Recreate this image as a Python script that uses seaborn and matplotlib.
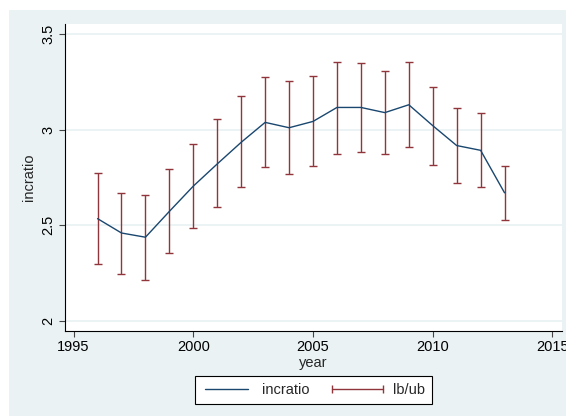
import matplotlib
matplotlib.use("Agg")
import matplotlib.pyplot as plt
import matplotlib.patches as mpatches
from matplotlib.lines import Line2D
from matplotlib.legend_handler import HandlerLine2D
import seaborn as sns
import pandas as pd

# values
years = list(range(1996, 2014))
incratio = [2.535, 2.46, 2.438, 2.573, 2.705, 2.821, 2.934, 3.038, 3.010,
            3.043, 3.116, 3.116, 3.089, 3.130, 3.021, 2.917, 2.892, 2.670]
lb = [2.300, 2.245, 2.217, 2.356, 2.486, 2.594, 2.701, 2.804, 2.766,
      2.809, 2.875, 2.885, 2.872, 2.911, 2.816, 2.719, 2.700, 2.526]
ub = [2.771, 2.668, 2.658, 2.795, 2.927, 3.054, 3.174, 3.274, 3.253,
      3.278, 3.356, 3.347, 3.304, 3.351, 3.222, 3.115, 3.085, 2.811]

df = pd.DataFrame({"year": years, "incratio": incratio, "lb": lb, "ub": ub})

navy = "#1a476f"
maroon = "#90353b"
bg = "#eaf2f3"

sns.set_style("white")
plt.rcParams["font.family"] = ["Liberation Sans", "DejaVu Sans"]
fs = 10.5

fig = plt.figure(figsize=(5.66, 4.16), dpi=100, facecolor="white")
# stata graph region (slight white margin top/left)
fig.patches.append(mpatches.Rectangle((9 / 566, 0), 1, 1 - 10 / 416,
                                      transform=fig.transFigure,
                                      facecolor=bg, edgecolor="none", zorder=-10))

ax = fig.add_axes([65 / 566, 1 - 331 / 416, (562 - 65) / 566, (331 - 24) / 416])
ax.set_facecolor("white")

for v in [2, 2.5, 3, 3.5]:
    ax.axhline(v, color=bg, lw=1.3, zorder=0)

ax.errorbar(df["year"], (df["lb"] + df["ub"]) / 2,
            yerr=[(df["ub"] - df["lb"]) / 2, (df["ub"] - df["lb"]) / 2],
            fmt="none", ecolor=maroon, elinewidth=1.0, capsize=2.6,
            capthick=1.0, zorder=2)
sns.lineplot(data=df, x="year", y="incratio", color=navy, lw=1.0, ax=ax,
             zorder=3)

ax.set_xlim(1994.64, 2015.4)
ax.set_ylim(1.948, 3.552)
ax.set_xticks([1995, 2000, 2005, 2010, 2015])
ax.set_yticks([2, 2.5, 3, 3.5])
ax.set_yticklabels(["2", "2.5", "3", "3.5"], rotation=90, va="center")

for s in ["top", "right"]:
    ax.spines[s].set_visible(False)
for s in ["left", "bottom"]:
    ax.spines[s].set_color("black")
    ax.spines[s].set_linewidth(0.8)

ax.tick_params(axis="both", direction="out", length=4.2, width=0.8,
               color="#444444", labelsize=fs, labelcolor="black",
               left=True, bottom=True)
ax.tick_params(axis="y", pad=3)
ax.tick_params(axis="x", pad=2.5)

ax.set_xlabel("year", fontsize=fs, labelpad=1)
ax.set_ylabel("incratio", fontsize=fs, labelpad=3.5)

h1 = Line2D([], [], color=navy, lw=1.0)
h2 = Line2D([], [], color=maroon, lw=1.0, marker="|", markersize=5.5,
            markeredgewidth=1.0)
leg = fig.legend([h1, h2], ["incratio", "lb/ub"], loc="center",
                 bbox_to_anchor=(313 / 566, 1 - 390 / 416), ncol=2,
                 frameon=True, fancybox=False, framealpha=1, edgecolor="black",
                 handlelength=3.5, handletextpad=0.7, columnspacing=1.5,
                 borderpad=0.45, numpoints=2, fontsize=fs,
                 handler_map={h2: HandlerLine2D(marker_pad=0, numpoints=2)})
leg.get_frame().set_linewidth(0.8)

fig.savefig("out.png", dpi=100, facecolor=fig.get_facecolor())
